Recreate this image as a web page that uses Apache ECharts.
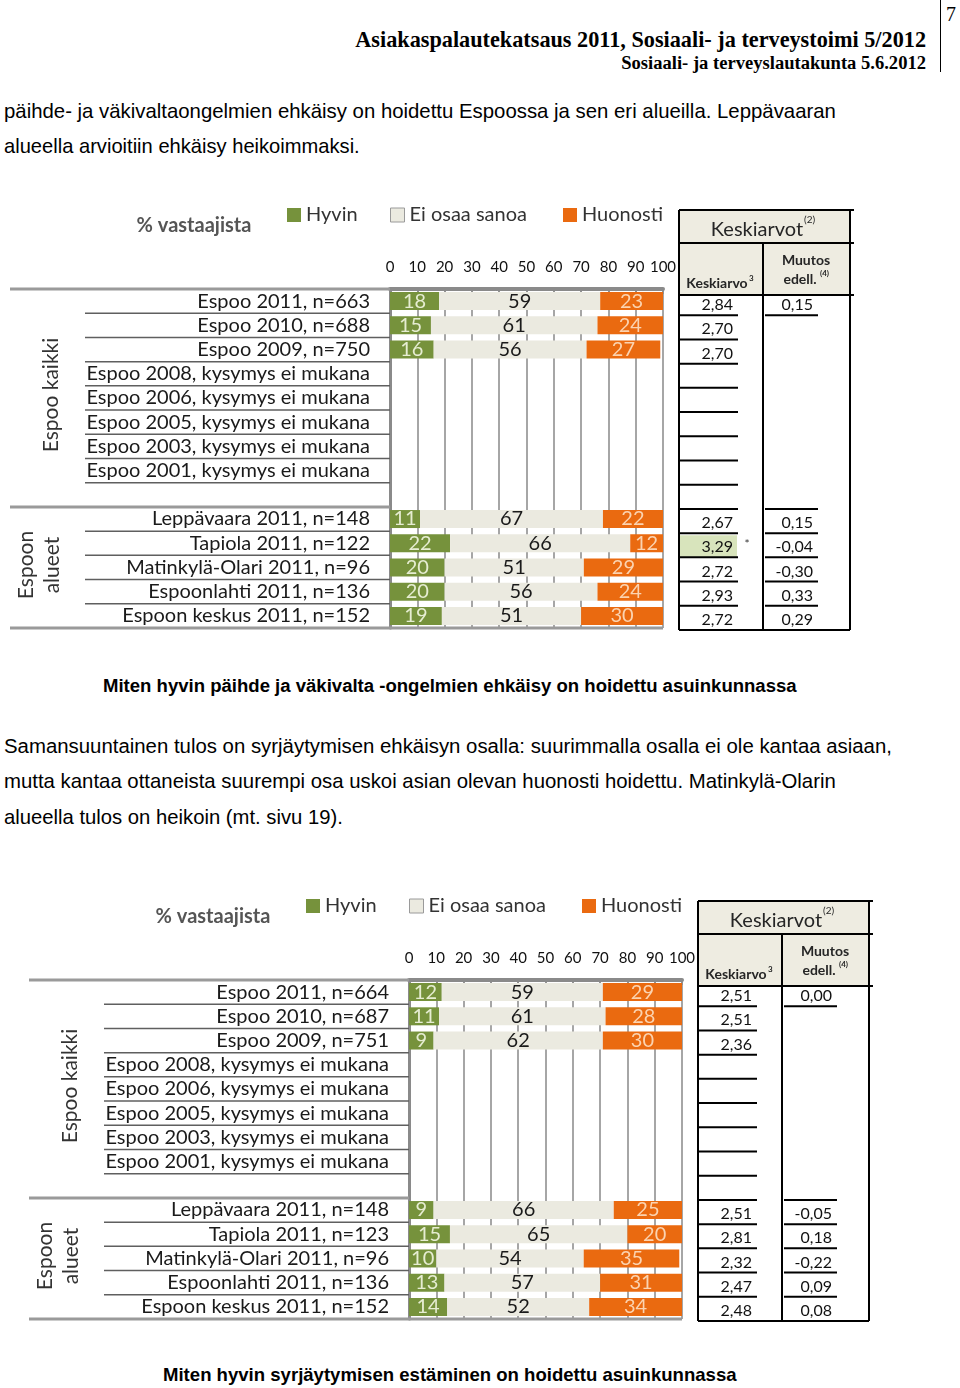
<!DOCTYPE html>
<html><head><meta charset="utf-8">
<script src="https://cdn.jsdelivr.net/npm/echarts@6/dist/echarts.min.js"></script>
<style>
html,body{margin:0;padding:0;background:#fff;}
body{width:960px;height:1388px;position:relative;overflow:hidden;}
.t{position:absolute;white-space:nowrap;line-height:1;color:#000;font-family:"Liberation Sans",Arial,sans-serif;}
.serif{font-family:"Liberation Serif","Times New Roman",serif;font-weight:bold;}
.b{font-weight:bold;}
.chart{position:absolute;width:880px;height:450px;}
</style></head><body>
<div style="position:absolute;left:940px;top:0;width:1px;height:72px;background:#000"></div>
<div class="t" style="left:946px;top:4px;font-family:'Liberation Serif',serif;font-size:20px">7</div>
<div class="t serif fit" data-fs="20" data-w="571" data-r="926" data-cy="40">Asiakaspalautekatsaus 2011, Sosiaali- ja terveystoimi 5/2012</div>
<div class="t serif fit" data-fs="16" data-w="305" data-r="926" data-cy="63">Sosiaali- ja terveyslautakunta 5.6.2012</div>
<div class="t fit" data-fs="19" data-w="832" data-l="4" data-cy="111">päihde- ja väkivaltaongelmien ehkäisy on hoidettu Espoossa ja sen eri alueilla. Leppävaaran</div>
<div class="t fit" data-fs="19" data-w="356" data-l="4" data-cy="146">alueella arvioitiin ehkäisy heikoimmaksi.</div>
<div class="t b fit" data-fs="16" data-w="694" data-l="103" data-cy="686">Miten hyvin päihde ja väkivalta -ongelmien ehkäisy on hoidettu asuinkunnassa</div>
<div class="t fit" data-fs="19" data-w="889" data-l="4" data-cy="746">Samansuuntainen tulos on syrjäytymisen ehkäisyn osalla: suurimmalla osalla ei ole kantaa asiaan,</div>
<div class="t fit" data-fs="19" data-w="832" data-l="4" data-cy="781">mutta kantaa ottaneista suurempi osa uskoi asian olevan huonosti hoidettu. Matinkylä-Olarin</div>
<div class="t fit" data-fs="19" data-w="339" data-l="4" data-cy="817">alueella tulos on heikoin (mt. sivu 19).</div>
<div class="t b fit" data-fs="16" data-w="574" data-l="163" data-cy="1375">Miten hyvin syrjäytymisen estäminen on hoidettu asuinkunnassa</div>

<div id="c1" class="chart" style="left:0;top:195px"></div>
<div id="c2" class="chart" style="left:19px;top:886px"></div>

<script>
// ---------- DATA ----------
const SERIES_NAMES = ['Hyvin', 'Ei osaa sanoa', 'Huonosti'];
const X_TICKS = [0, 10, 20, 30, 40, 50, 60, 70, 80, 90, 100];

const ROWS1 = ['Espoo 2011, n=663','Espoo 2010, n=688','Espoo 2009, n=750',
  'Espoo 2008, kysymys ei mukana','Espoo 2006, kysymys ei mukana','Espoo 2005, kysymys ei mukana',
  'Espoo 2003, kysymys ei mukana','Espoo 2001, kysymys ei mukana','',
  'Leppävaara 2011, n=148','Tapiola 2011, n=122','Matinkylä-Olari 2011, n=96',
  'Espoonlahti 2011, n=136','Espoon keskus 2011, n=152'];
const HYVIN1    = [18,15,16,null,null,null,null,null,null,11,22,20,20,19];
const EIOSAA1   = [59,61,56,null,null,null,null,null,null,67,66,51,56,51];
const HUONOSTI1 = [23,24,27,null,null,null,null,null,null,22,12,29,24,30];
const KESKIARVO1 = ['2,84','2,70','2,70','','','','','','','2,67','3,29','2,72','2,93','2,72'];
const MUUTOS1    = ['0,15','','','','','','','','','0,15','-0,04','-0,30','0,33','0,29'];
const SIGNIF1 = ['','','','','','','','','','','*','','',''];

const ROWS2 = ['Espoo 2011, n=664','Espoo 2010, n=687','Espoo 2009, n=751',
  'Espoo 2008, kysymys ei mukana','Espoo 2006, kysymys ei mukana','Espoo 2005, kysymys ei mukana',
  'Espoo 2003, kysymys ei mukana','Espoo 2001, kysymys ei mukana','',
  'Leppävaara 2011, n=148','Tapiola 2011, n=123','Matinkylä-Olari 2011, n=96',
  'Espoonlahti 2011, n=136','Espoon keskus 2011, n=152'];
const HYVIN2    = [12,11,9,null,null,null,null,null,null,9,15,10,13,14];
const EIOSAA2   = [59,61,62,null,null,null,null,null,null,66,65,54,57,52];
const HUONOSTI2 = [29,28,30,null,null,null,null,null,null,25,20,35,31,34];
const KESKIARVO2 = ['2,51','2,51','2,36','','','','','','','2,51','2,81','2,32','2,47','2,48'];
const MUUTOS2    = ['0,00','','','','','','','','','-0,05','0,18','-0,22','0,09','0,08'];
const SIGNIF2 = ['','','','','','','','','','','','','',''];

// ---------- page text fitting ----------
document.querySelectorAll('.fit').forEach(e => {
  let fs = +e.dataset.fs; e.style.fontSize = fs + 'px';
  const cw = e.getBoundingClientRect().width;
  fs = fs * (+e.dataset.w) / cw; e.style.fontSize = fs + 'px';
  e.style.top = (+e.dataset.cy - 0.49 * fs) + 'px';
  if (e.dataset.r) e.style.left = (+e.dataset.r - e.getBoundingClientRect().width) + 'px';
  else e.style.left = e.dataset.l + 'px';
});

// ---------- chart ----------
const FONT = 'Lato, "Open Sans", sans-serif';
const COLORS = ['#76923c', '#ebeae0', '#ea6a10'];
const LABEL_COLORS = ['#e6edd2', '#1a1a1a', '#fbd3b0'];

function build(el, rows, hy, eo, hu, ka, mu, sig) {
  const chart = echarts.init(el);
  const n = rows.length;
  const GL = 390, GT = 94, GW = 273, GH = 339, TL = 679, TW = 171, LL = 85, FL = 10;
  const TT = 15, TH1 = 48, TH2 = 100, TB = 435, TD = TL + 84;
  const blank = rows.indexOf('');
  const groupTops = [0, blank + 1];
  const values = [hy, eo, hu];

  const bars = SERIES_NAMES.map((name, k) => ({
    name, type: 'bar', stack: 'all', xAxisIndex: 0, yAxisIndex: 0,
    data: values[k], barWidth: 18, z: 3,
    itemStyle: { color: COLORS[k] },
    label: { show: true, position: 'inside', color: LABEL_COLORS[k], fontSize: 20, fontFamily: FONT }
  }));

  const sepSeries = {
    type: 'custom', xAxisIndex: 2, yAxisIndex: 2, silent: true, clip: false, z: 5,
    data: rows.map((r, i) => [0, i]),
    renderItem(params, api) {
      const i = api.value(1);
      const y = api.coord([0, i])[1];
      const h = api.size([0, 1])[1];
      const cs = params.coordSys;
      const ch = [];
      const yb = y + h / 2;
      if (i < n - 1) ch.push({ type: 'line', shape: { x1: cs.x, y1: yb, x2: cs.x + cs.width, y2: yb },
        style: { stroke: '#5f5f5f', lineWidth: 1.5 } });
      if (groupTops.includes(i)) ch.push({ type: 'line', shape: { x1: FL, y1: y - h / 2, x2: cs.x + cs.width, y2: y - h / 2 },
        style: { stroke: '#9a9a9a', lineWidth: 3 } });
      if (i === n - 1) ch.push({ type: 'line', shape: { x1: FL, y1: yb, x2: GL + GW, y2: yb },
        style: { stroke: '#9a9a9a', lineWidth: 3 } });
      return { type: 'group', children: ch };
    }
  };

  const tableSeries = {
    type: 'custom', xAxisIndex: 1, yAxisIndex: 1, silent: true, clip: false, z: 5,
    data: rows.map((r, i) => [0, i]),
    renderItem(params, api) {
      const i = api.value(1);
      const y = api.coord([0, i])[1];
      const h = api.size([0, 1])[1];
      const x0 = params.coordSys.x;
      const ch = [];
      const yb = y + h / 2 + 2;
      if (sig[i]) {
        ch.push({ type: 'rect', shape: { x: x0 + 1, y: y - h / 2 + 4, width: 57, height: h - 2 }, style: { fill: '#d8e4bc' } });
        ch.push({ type: 'text', style: { text: sig[i], x: x0 + 68, y: y + 1, align: 'center', verticalAlign: 'middle',
          fontSize: 12, fontFamily: FONT, fill: '#333' } });
      }
      if (ka[i]) ch.push({ type: 'text', style: { text: ka[i], x: x0 + 54, y: y + 4, align: 'right', verticalAlign: 'middle',
        fontSize: 16, fontFamily: FONT, fill: '#111' } });
      if (mu[i]) ch.push({ type: 'text', style: { text: mu[i], x: x0 + 134, y: y + 4, align: 'right', verticalAlign: 'middle',
        fontSize: 16, fontFamily: FONT, fill: '#111' } });
      if (i < n - 1) ch.push({ type: 'line', shape: { x1: x0, y1: yb, x2: x0 + 59, y2: yb }, style: { stroke: '#000', lineWidth: 2 } });
      if (i < n - 1 && (mu[i] || mu[i + 1])) ch.push({ type: 'line', shape: { x1: x0 + 86, y1: yb, x2: x0 + 139, y2: yb },
        style: { stroke: '#000', lineWidth: 2 } });
      return { type: 'group', children: ch };
    }
  };

  const line = (x1, y1, x2, y2, w) => ({ type: 'line', silent: true, z: 10, shape: { x1, y1, x2, y2 }, style: { stroke: '#000', lineWidth: w || 2 } });
  const txt = (text, x, y, size, opts) => Object.assign({ type: 'text', silent: true, z: 10,
    style: Object.assign({ text, x, y, fontSize: size, fontFamily: FONT, fill: '#262626', align: 'center', verticalAlign: 'middle' }, opts || {}) });

  const graphic = [
    { type: 'rect', silent: true, z: 9, shape: { x: TL, y: TT, width: TW, height: TH2 - TT }, style: { fill: '#eeece1' } },
    line(TL, TT, TL + TW + 4, TT), line(TL, TH1, TL + TW + 4, TH1), line(TL, TH2, TL + TW + 4, TH2),
    line(TL, TT, TL, TB), line(TD, TH1, TD, TB), line(TL + TW, TT, TL + TW, TB), line(TL, TB, TL + TW, TB),
    txt('Keskiarvot', TL + 78, 35, 20),
    txt('(2)', TL + 125, 25, 10, { align: 'left' }),
    txt('Keskiarvo', TL + 38, 88, 14, { fontWeight: 'bold' }),
    txt('3', TL + 70, 83, 8, { align: 'left', fontWeight: 'bold' }),
    txt('Muutos', TD + 43, 65, 14, { fontWeight: 'bold' }),
    txt('edell.', TD + 37, 84, 14, { fontWeight: 'bold' }),
    txt('(4)', TD + 57, 78, 8, { align: 'left', fontWeight: 'bold' }),
    txt('% vastaajista', 194, 31, 20, { fontWeight: 'bold', fill: '#555' }),
    txt('Espoo kaikki', 51, 200, 21, { fill: '#333' }),
    txt('Espoon', 26, 370, 21, { fill: '#333' }),
    txt('alueet', 52, 370, 21, { fill: '#333' })
  ];
  graphic.slice(-3).forEach(g => {
    g.x = g.style.x; g.y = g.style.y; g.style.x = 0; g.style.y = 0; g.rotation = Math.PI / 2;
  });

  const legendCommon = { top: 10, padding: 0, icon: 'rect', itemWidth: 14, itemHeight: 14, selectedMode: false,
    textStyle: { fontSize: 20, color: '#333', fontFamily: FONT } };

  chart.setOption({
    animation: false,
    textStyle: { fontFamily: FONT },
    grid: [
      { left: GL, top: GT, width: GW, height: GH },
      { left: TL, top: GT, width: TW, height: GH },
      { left: LL, top: GT, width: GL - LL, height: GH }
    ],
    legend: [
      Object.assign({ left: 287, data: [SERIES_NAMES[0]] }, legendCommon),
      Object.assign({ left: 390, data: [{ name: SERIES_NAMES[1], itemStyle: { borderColor: '#9a9a9a', borderWidth: 1 } }] }, legendCommon),
      Object.assign({ left: 563, data: [SERIES_NAMES[2]] }, legendCommon)
    ],
    xAxis: [
      { gridIndex: 0, type: 'value', min: X_TICKS[0], max: X_TICKS[X_TICKS.length - 1], interval: X_TICKS[1] - X_TICKS[0], position: 'top',
        axisLine: { show: true, lineStyle: { color: '#8a8a8a', width: 4 } },
        axisTick: { show: true, inside: true, length: 5, lineStyle: { color: '#8a8a8a', width: 1.5 } },
        axisLabel: { margin: 14, fontSize: 15, color: '#111', fontFamily: FONT },
        splitLine: { show: true, lineStyle: { color: '#a6a6a6', width: 2 } } },
      { gridIndex: 1, type: 'value', min: 0, max: 1, show: false },
      { gridIndex: 2, type: 'value', min: 0, max: 1, show: false }
    ],
    yAxis: [
      { gridIndex: 0, type: 'category', data: rows, inverse: true,
        axisLine: { show: true, lineStyle: { color: '#8a8a8a', width: 3 } }, axisTick: { show: false },
        axisLabel: { interval: 0, margin: 20, fontSize: 20, color: '#1a1a1a', fontFamily: FONT } },
      { gridIndex: 1, type: 'category', data: rows, inverse: true, show: false },
      { gridIndex: 2, type: 'category', data: rows, inverse: true, show: false }
    ],
    graphic,
    series: [...bars, sepSeries, tableSeries]
  });
  return chart;
}

build(document.getElementById('c1'), ROWS1, HYVIN1, EIOSAA1, HUONOSTI1, KESKIARVO1, MUUTOS1, SIGNIF1);
build(document.getElementById('c2'), ROWS2, HYVIN2, EIOSAA2, HUONOSTI2, KESKIARVO2, MUUTOS2, SIGNIF2);
</script>
</body></html>
